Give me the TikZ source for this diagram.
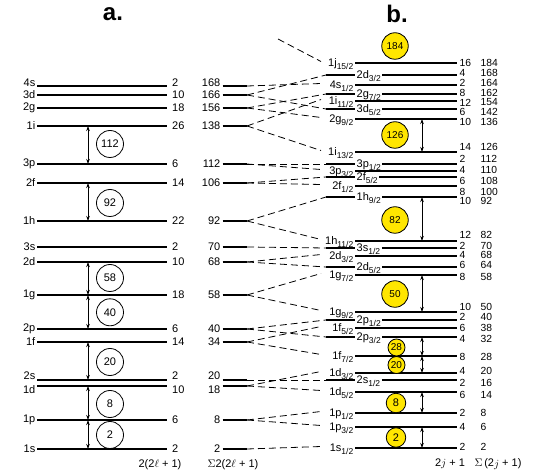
\documentclass[tikz,border=0pt]{standalone}
\usepackage{fontspec}
\setmainfont{Liberation Sans}
\usetikzlibrary{arrows.meta}
\definecolor{shellyellow}{RGB}{255,230,0}
\newcommand\lsub[1]{\raisebox{-2.6pt}{\fontsize{8.5}{9}\selectfont #1}}
\begin{document}
\begin{tikzpicture}[x=1pt,y=-1pt,
  level/.style={line width=1.9pt},
  conn/.style={line width=0.8pt, dash pattern=on 7pt off 4pt},
  lab/.style={inner sep=0pt, font=\fontsize{11}{13}\selectfont},
  num/.style={inner sep=0pt, font=\fontsize{10.3}{12}\selectfont},
  rlab/.style={inner ysep=0pt, inner xsep=1.5pt, font=\fontsize{11}{13}\selectfont},
  magicw/.style={circle, draw, line width=0.8pt, minimum size=27pt, inner sep=0pt, font=\fontsize{11}{12}\selectfont},
  magicy/.style={circle, draw, line width=0.8pt, fill=shellyellow, minimum size=26.5pt, inner sep=0pt, font=\fontsize{10}{12}\selectfont},
  dbl/.style={{Stealth[length=5pt,width=3.5pt]}-{Stealth[length=5pt,width=3.5pt]}, line width=0.7pt},
  title/.style={font=\fontsize{24}{28}\selectfont\bfseries, inner sep=0pt}
]
\useasboundingbox (0,0) rectangle (542,476);

\node[title, anchor=base] (ta) at (113,21) {a.};
\node[title, anchor=base] (tb) at (397,23) {b.};

% ---------- panel a ----------
\foreach \n/\y/\d/\s/\dy in {4s/86/2/168/-3.5, 3d/95/10/166/0, 2g/108/18/156/0, 1i/126/26/138/0,
  3p/164/6/112/0, 2f/183/14/106/0, 1h/221/22/92/0, 3s/247/2/70/0, 2d/262/10/68/0,
  1g/295/18/58/0, 2p/329/6/40/0, 1f/342/14/34/0, 2s/380/2/20/-4, 1d/386/10/18/4,
  1p/420/6/8/0, 1s/449/2/2/0}
{
  \coordinate (L\n-w) at (37,\y);
  \coordinate (L\n-e) at (167,\y);
  \coordinate (L\n-m) at (88,\y);
  \draw[level] (L\n-w) -- (L\n-e);
  \node[lab, anchor=east] (L\n-lab) at (35.5,\y+\dy) {\n};
  \node[lab, anchor=west] (L\n-deg) at (172,\y+\dy) {\d};
  \node[lab, anchor=east] (L\n-sum) at (220.5,\y+\dy) {\s};
  \coordinate (S\n-w) at (222.5,\y);
  \coordinate (S\n-e) at (247,\y);
  \draw[level] (S\n-w) -- (S\n-e);
}

\draw[dbl] (L1i-m) -- (L3p-m);
\draw[dbl] (L2f-m) -- (L1h-m);
\draw[dbl] (L2d-m) -- (L1g-m);
\draw[dbl] (L1g-m) -- (L2p-m);
\draw[dbl] (L1f-m) -- (L2s-m);
\draw[dbl] (L1d-m) -- (L1p-m);
\draw[dbl] (L1p-m) -- (L1s-m);

\node[magicw] (a112) at (110,144) {112};
\node[magicw] (a92) at (110,203) {92};
\node[magicw] (a58) at (110,278) {58};
\node[magicw] (a40) at (110,312.3) {40};
\node[magicw] (a20) at (110,362) {20};
\node[magicw] (a8) at (110,404) {8};
\node[magicw] (a2) at (110,435) {2};

% ---------- panel b: levels labelled at the left ----------
\foreach \n/\m/\j/\y/\d/\ny/\s in {1/1j/15/63/16/63/184, 3/4s/1/85/2/82.5/164, 5/1i/11/101/12/102.5/154,
  7/2g/9/119/10/122/136, 8/1i/13/152/14/147/126, 10/3p/3/171/4/170/110, 12/2f/1/186/8/191.5/100,
  14/1h/11/241/12/235/82, 16/2d/3/256/4/255/68, 18/1g/7/275/8/276.5/58, 19/1g/9/312/10/306.5/50,
  21/1f/5/328/6/328.3/38, 23/1f/7/356/8/356.5/28, 24/1d/3/373/4/371/20, 26/1d/5/392/6/395/14,
  27/1p/1/413/2/413.3/8, 28/1p/3/427/4/426.7/6, 29/1s/1/448/2/447.3/2}
{
  \coordinate (R\n-w) at (355,\y);
  \coordinate (R\n-e) at (457,\y);
  \coordinate (R\n-m) at (422,\y);
  \coordinate (R\n-p) at (321,\y-1.5);
  \draw[level] (R\n-w) -- (R\n-e);
  \node[rlab, anchor=base east] (R\n-lab) at (355,\y+3.5) {\m\lsub{\j/2}};
  \node[num, anchor=west] (R\n-deg) at (459.5,\ny) {\d};
  \node[num, anchor=west] (R\n-sum) at (480.5,\ny) {\s};
}
% ---------- panel b: levels labelled in the middle ----------
\foreach \n/\m/\j/\y/\d/\ny/\s in {2/2d/3/75/4/72.8/168, 4/2g/7/94/8/92.7/162, 6/3d/5/109/6/112/142,
  9/3p/1/164/2/159/112, 11/2f/5/177/6/180.7/108, 13/1h/9/197/10/201/92, 15/3s/1/248/2/245.7/70,
  17/2d/5/267/6/265/64, 20/2p/1/320/2/317/40, 22/2p/3/337/4/339.3/32, 25/2s/1/380/2/382.7/16}
{
  \coordinate (R\n-w) at (326,\y);
  \coordinate (R\n-e) at (457,\y);
  \coordinate (R\n-m) at (422,\y);
  \coordinate (R\n-p) at (326,\y);
  \node[rlab, anchor=base west] (R\n-lab) at (355,\y+3.5) {\m\lsub{\j/2}};
  \draw[level] (R\n-w) -- (R\n-lab.west |- R\n-w);
  \draw[level] (R\n-lab.east |- R\n-w) -- (R\n-e);
  \node[num, anchor=west] (R\n-deg) at (459.5,\ny) {\d};
  \node[num, anchor=west] (R\n-sum) at (480.5,\ny) {\s};
}

% ---------- dashed spin-orbit connectors ----------
\coordinate (ext1j) at (278,39);
\draw[conn] (ext1j) -- (R1-p);
\draw[conn] (S4s-e) -- (R3-p);
\draw[conn] (S3d-e) -- (R2-p);
\draw[conn] (S3d-e) -- (R6-p);
\draw[conn] (S2g-e) -- (R4-p);
\draw[conn] (S2g-e) -- (R7-p);
\draw[conn] (S1i-e) -- (R5-p);
\draw[conn] (S1i-e) -- (R8-p);
\draw[conn] (S3p-e) -- (R9-p);
\draw[conn] (S3p-e) -- (R10-p);
\draw[conn] (S2f-e) -- (R11-p);
\draw[conn] (S2f-e) -- (R12-p);
\draw[conn] (S1h-e) -- (R13-p);
\draw[conn] (S1h-e) -- (R14-p);
\draw[conn] (S3s-e) -- (R15-p);
\draw[conn] (S2d-e) -- (R16-p);
\draw[conn] (S2d-e) -- (R17-p);
\draw[conn] (S1g-e) -- (R18-p);
\draw[conn] (S1g-e) -- (R19-p);
\draw[conn] (S2p-e) -- (R20-p);
\draw[conn] (S2p-e) -- (R22-p);
\draw[conn] (S1f-e) -- (R21-p);
\draw[conn] (S1f-e) -- (R23-p);
\draw[conn] (S2s-e) -- (R25-p);
\draw[conn] (S1d-e) -- (R24-p);
\draw[conn] (S1d-e) -- (R26-p);
\draw[conn] (S1p-e) -- (R27-p);
\draw[conn] (S1p-e) -- (R28-p);
\draw[conn] (S1s-e) -- (R29-p);

% ---------- gaps ----------
\draw[dbl] (R7-m) -- (R8-m);
\draw[dbl] (R13-m) -- (R14-m);
\draw[dbl] (R18-m) -- (R19-m);
\draw[dbl] (R22-m) -- (R23-m);
\draw[dbl] (R23-m) -- (R24-m);
\draw[dbl] (R26-m) -- (R27-m);
\draw[dbl] (R28-m) -- (R29-m);

\node[magicy] (b184) at (395,46) {184};
\node[magicy] (b126) at (395,135) {126};
\node[magicy] (b82) at (395,220) {82};
\node[magicy] (b50) at (395,294) {50};
\node[magicy, minimum size=17pt, font=\fontsize{10}{11}\selectfont] (b28) at (396.5,347.5) {28};
\node[magicy, minimum size=17pt, font=\fontsize{10}{11}\selectfont] (b20) at (396.5,365) {20};
\node[magicy, minimum size=19.5pt, font=\fontsize{11}{12}\selectfont] (b8) at (396,403) {8};
\node[magicy, minimum size=19.5pt, font=\fontsize{11}{12}\selectfont] (b2) at (396,437.5) {2};

% ---------- column headings ----------
\node[lab] (ha) at (160,465) {2(2$\ell$ + 1)};
\node[lab] (hb) at (233,465) {$\Sigma$2(2$\ell$ + 1)};
\node[lab] (hc) at (450,464) {2$j$ + 1};
\node[lab] (hd) at (498,464) {$\Sigma$\,(2\raisebox{-1.5pt}{$j$} + 1)};
\end{tikzpicture}
\end{document}
